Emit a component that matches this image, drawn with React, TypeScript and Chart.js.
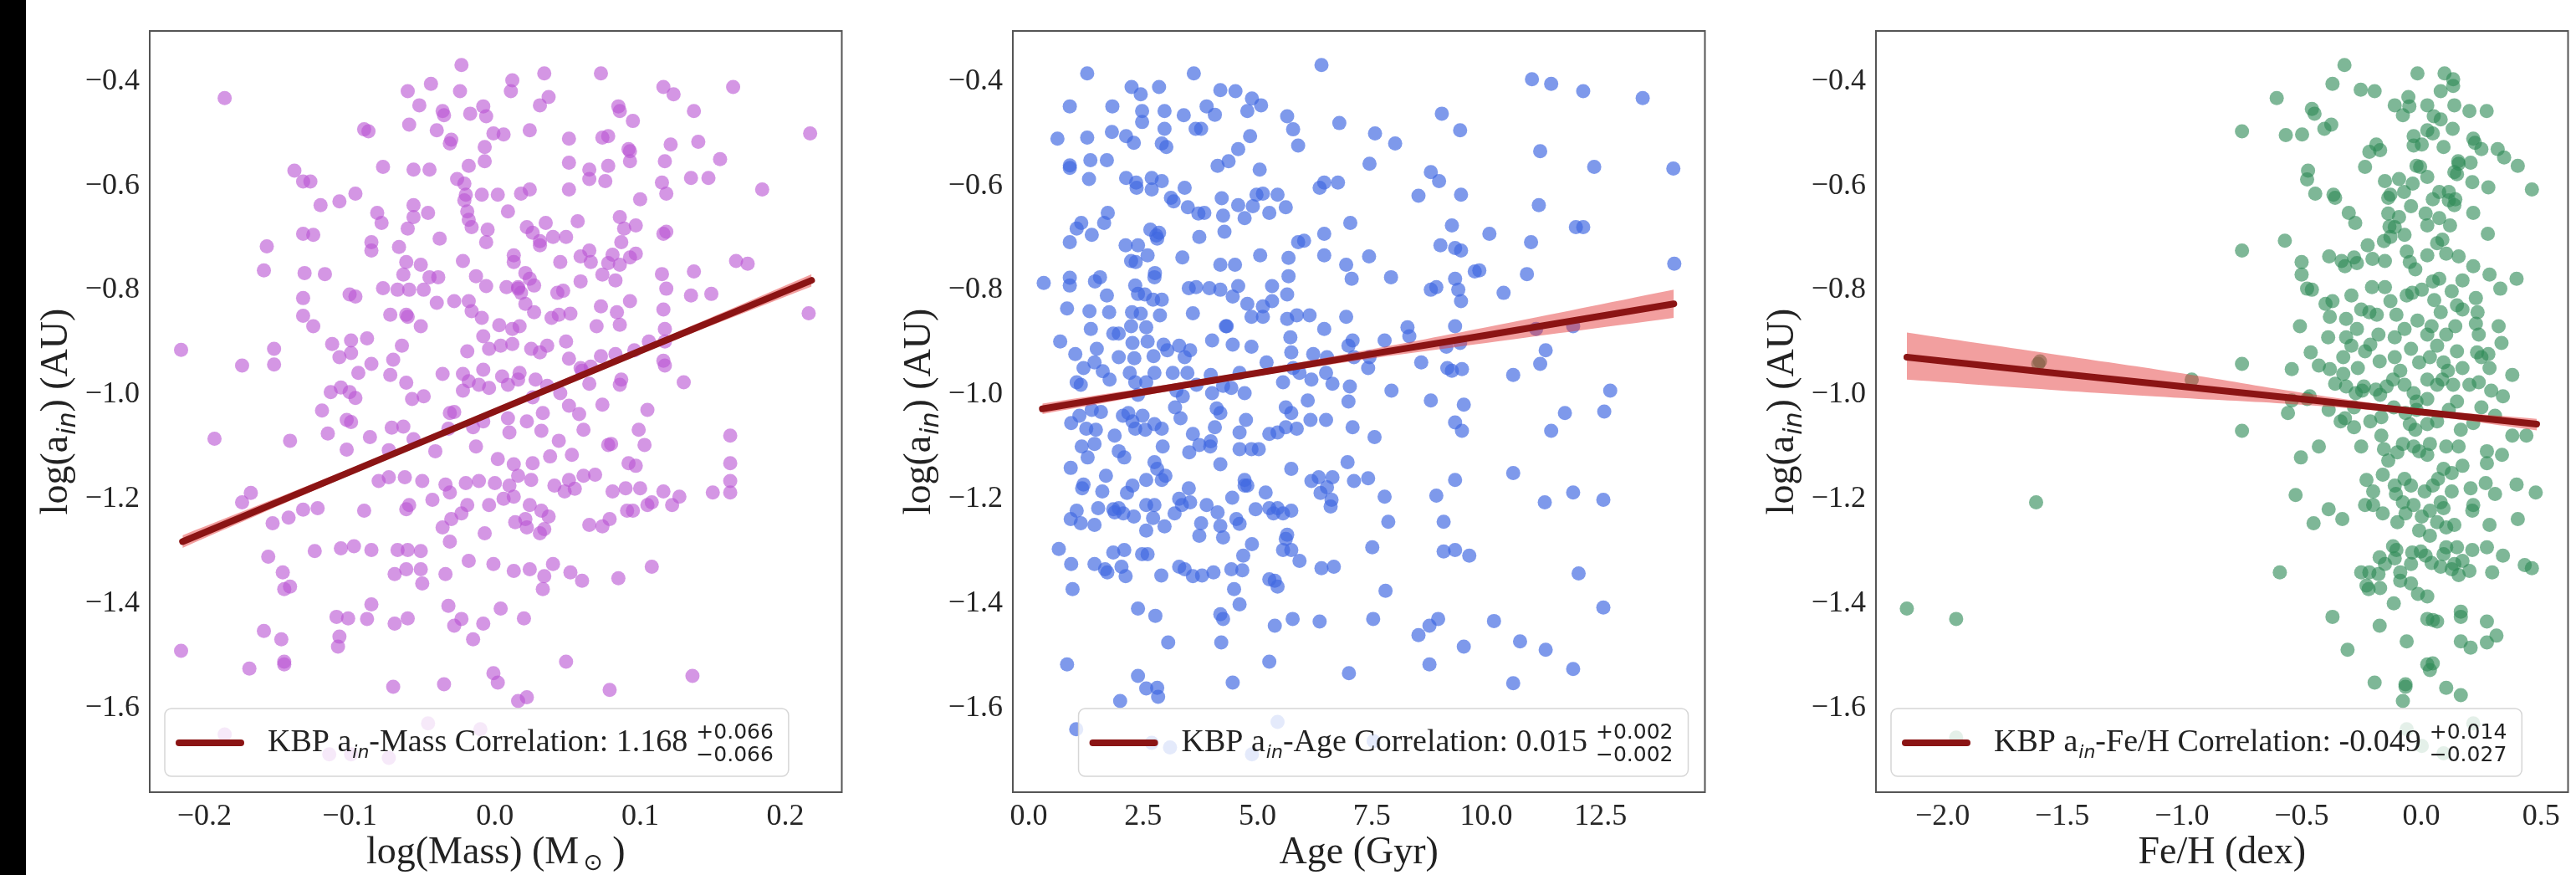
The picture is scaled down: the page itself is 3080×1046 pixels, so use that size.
import React, { useEffect, useRef } from "react";
import { Chart, registerables } from "chart.js";
Chart.register(...registerables);

// ---------------- DATA ----------------
const yTicks = [-1.6, -1.4, -1.2, -1.0, -0.8, -0.6, -0.4];
const massTicks = [-0.2, -0.1, 0.0, 0.1, 0.2];
const ageTicks = [0, 2.5, 5, 7.5, 10, 12.5];
const fehTicks = [-2.0, -1.5, -1.0, -0.5, 0.0, 0.5];

const massPoints = [
  [-0.023,-0.369],[-0.186,-0.432],[0.012,-0.398],[0.034,-0.385],[0.073,-0.385],[0.116,-0.411],[0.123,-0.425],[0.164,-0.411],
  [-0.060,-0.419],[-0.044,-0.405],[-0.024,-0.419],[0.011,-0.419],[0.037,-0.430],[-0.052,-0.446],[-0.036,-0.457],[-0.035,-0.465],
  [-0.008,-0.448],[-0.017,-0.462],[-0.006,-0.467],[0.031,-0.446],[0.137,-0.457],[0.085,-0.448],[0.086,-0.457],[0.095,-0.476],
  [-0.090,-0.492],[-0.087,-0.496],[-0.059,-0.483],[-0.040,-0.494],[-0.030,-0.512],[-0.031,-0.519],[-0.001,-0.500],[0.006,-0.502],
  [0.024,-0.494],[0.051,-0.510],[0.074,-0.508],[0.078,-0.505],[0.121,-0.521],[0.092,-0.530],[0.093,-0.534],[0.140,-0.516],
  [0.217,-0.500],[-0.007,-0.526],[-0.018,-0.562],[-0.007,-0.553],[0.051,-0.556],[0.065,-0.569],[0.078,-0.562],[0.093,-0.553],
  [0.117,-0.553],[0.155,-0.549],[0.147,-0.585],[0.135,-0.585],[-0.077,-0.564],[-0.056,-0.569],[-0.045,-0.569],[-0.138,-0.571],
  [-0.132,-0.592],[-0.127,-0.592],[-0.120,-0.637],[-0.107,-0.630],[-0.096,-0.615],[-0.026,-0.587],[-0.021,-0.596],[-0.009,-0.617],
  [0.002,-0.617],[-0.020,-0.617],[-0.021,-0.628],[0.024,-0.607],[0.018,-0.615],[0.076,-0.591],[0.065,-0.587],[0.051,-0.607],
  [0.115,-0.594],[0.118,-0.615],[0.100,-0.626],[0.184,-0.607],[-0.056,-0.637],[-0.046,-0.652],[-0.056,-0.660],[-0.081,-0.652],
  [-0.078,-0.671],[-0.060,-0.682],[-0.019,-0.649],[-0.018,-0.665],[-0.016,-0.679],[-0.005,-0.684],[-0.006,-0.708],[0.009,-0.649],
  [0.022,-0.679],[0.026,-0.690],[0.035,-0.671],[0.031,-0.706],[0.057,-0.668],[0.049,-0.698],[0.086,-0.660],[0.089,-0.682],
  [0.097,-0.676],[0.116,-0.692],[0.118,-0.688],[-0.157,-0.716],[-0.132,-0.692],[-0.125,-0.694],[-0.085,-0.708],[-0.085,-0.724],
  [-0.066,-0.717],[-0.061,-0.746],[-0.051,-0.751],[-0.038,-0.701],[-0.022,-0.744],[-0.039,-0.775],[0.013,-0.733],[0.013,-0.746],
  [0.021,-0.767],[0.016,-0.797],[0.031,-0.714],[0.040,-0.698],[0.065,-0.724],[0.066,-0.746],[0.045,-0.746],[0.059,-0.735],
  [0.087,-0.708],[0.081,-0.732],[0.097,-0.730],[0.093,-0.737],[0.086,-0.751],[0.078,-0.748],[0.166,-0.744],[0.174,-0.749],
  [-0.159,-0.762],[-0.131,-0.767],[-0.117,-0.769],[-0.100,-0.808],[-0.096,-0.812],[-0.063,-0.770],[-0.045,-0.775],[-0.077,-0.796],
  [-0.067,-0.799],[-0.059,-0.799],[-0.049,-0.799],[-0.040,-0.824],[-0.061,-0.847],[-0.051,-0.869],[-0.013,-0.773],[-0.006,-0.792],
  [0.008,-0.794],[0.016,-0.794],[0.018,-0.805],[0.021,-0.826],[0.024,-0.778],[0.027,-0.791],[0.043,-0.805],[0.047,-0.801],
  [0.059,-0.783],[0.074,-0.770],[0.083,-0.781],[0.115,-0.769],[0.118,-0.797],[0.135,-0.810],[0.149,-0.807],[0.137,-0.764],
  [0.216,-0.844],[-0.132,-0.815],[-0.132,-0.849],[-0.125,-0.869],[-0.072,-0.847],[-0.060,-0.851],[-0.028,-0.821],[-0.018,-0.821],
  [-0.016,-0.840],[-0.009,-0.853],[0.003,-0.867],[0.012,-0.874],[0.017,-0.869],[0.027,-0.842],[0.039,-0.853],[0.044,-0.847],
  [0.052,-0.845],[0.073,-0.831],[0.070,-0.869],[0.086,-0.866],[0.093,-0.821],[0.084,-0.842],[0.116,-0.837],[0.117,-0.874],
  [-0.216,-0.914],[-0.174,-0.944],[-0.152,-0.912],[-0.152,-0.942],[-0.112,-0.903],[-0.107,-0.928],[-0.099,-0.920],[-0.099,-0.896],
  [-0.088,-0.892],[-0.094,-0.958],[-0.085,-0.941],[-0.070,-0.933],[-0.064,-0.906],[-0.019,-0.917],[-0.008,-0.888],[-0.004,-0.912],
  [0.004,-0.906],[0.012,-0.903],[0.025,-0.912],[0.031,-0.919],[0.036,-0.906],[0.051,-0.931],[0.049,-0.898],[0.059,-0.949],
  [0.066,-0.946],[0.073,-0.926],[0.083,-0.922],[0.096,-0.915],[0.106,-0.898],[0.116,-0.935],[0.117,-0.944],[0.117,-0.898],
  [0.130,-0.976],[0.087,-0.971],[0.086,-0.981],[-0.193,-1.084],[-0.119,-1.030],[-0.113,-0.995],[-0.106,-0.986],[-0.100,-0.995],
  [-0.102,-1.048],[-0.096,-1.006],[-0.099,-1.052],[-0.086,-1.081],[-0.072,-0.962],[-0.061,-0.977],[-0.057,-1.008],[-0.049,-1.003],
  [-0.036,-0.960],[-0.031,-1.035],[-0.022,-0.960],[-0.022,-0.992],[-0.018,-0.974],[-0.008,-0.952],[-0.011,-0.981],[-0.004,-0.987],
  [0.005,-0.965],[0.009,-0.981],[0.017,-0.958],[0.016,-0.971],[0.028,-0.971],[0.026,-1.005],[0.036,-0.983],[0.045,-0.997],
  [0.051,-1.021],[0.058,-1.037],[0.060,-0.954],[0.065,-0.979],[0.074,-1.019],[0.105,-1.029],[0.099,-1.067],[-0.141,-1.088],
  [-0.115,-1.074],[-0.071,-1.063],[-0.063,-1.061],[-0.056,-1.085],[-0.028,-1.033],[-0.032,-1.065],[-0.015,-1.062],[-0.008,-1.051],
  [0.009,-1.045],[0.010,-1.072],[0.022,-1.051],[0.033,-1.035],[0.032,-1.069],[0.044,-1.088],[0.061,-1.067],[0.080,-1.094],
  [0.097,-1.136],[0.162,-1.078],[-0.102,-1.105],[-0.073,-1.106],[-0.041,-1.108],[-0.013,-1.099],[0.002,-1.123],[0.013,-1.133],
  [0.016,-1.155],[0.026,-1.131],[0.038,-1.118],[0.053,-1.115],[0.078,-1.096],[0.092,-1.131],[0.103,-1.096],[0.162,-1.131],
  [0.162,-1.165],[-0.174,-1.206],[-0.168,-1.188],[-0.153,-1.246],[-0.142,-1.235],[-0.132,-1.220],[-0.122,-1.217],[-0.080,-1.165],
  [-0.073,-1.158],[-0.062,-1.158],[-0.050,-1.165],[-0.034,-1.172],[-0.031,-1.187],[-0.020,-1.169],[-0.011,-1.165],[0.000,-1.169],
  [0.006,-1.199],[0.010,-1.174],[0.025,-1.163],[0.041,-1.174],[0.048,-1.185],[0.051,-1.163],[0.055,-1.180],[0.061,-1.155],
  [0.069,-1.153],[0.081,-1.185],[0.090,-1.179],[0.095,-1.222],[0.108,-1.206],[0.116,-1.185],[0.127,-1.195],[0.162,-1.187],
  [-0.156,-1.310],[-0.146,-1.340],[-0.145,-1.372],[-0.141,-1.367],[-0.124,-1.299],[-0.106,-1.294],[-0.097,-1.290],[-0.090,-1.222],
  [-0.085,-1.297],[-0.067,-1.297],[-0.059,-1.211],[-0.061,-1.219],[-0.060,-1.297],[-0.051,-1.299],[-0.043,-1.201],[-0.030,-1.238],
  [-0.036,-1.254],[-0.031,-1.281],[-0.023,-1.227],[-0.019,-1.211],[-0.007,-1.265],[-0.004,-1.211],[0.013,-1.195],[0.014,-1.244],
  [0.021,-1.238],[0.022,-1.254],[0.024,-1.211],[0.032,-1.222],[0.034,-1.257],[0.031,-1.265],[0.037,-1.233],[0.065,-1.249],
  [0.074,-1.252],[0.079,-1.238],[0.091,-1.222],[0.100,-1.179],[0.105,-1.211],[0.122,-1.211],[0.150,-1.187],[0.108,-1.329],
  [-0.069,-1.343],[-0.061,-1.334],[-0.051,-1.334],[-0.034,-1.343],[-0.018,-1.318],[-0.001,-1.324],[0.013,-1.337],[0.024,-1.334],
  [0.034,-1.347],[0.040,-1.324],[0.052,-1.340],[0.060,-1.356],[0.085,-1.351],[-0.050,-1.361],[0.033,-1.372],[-0.159,-1.452],
  [-0.147,-1.468],[-0.145,-1.511],[-0.109,-1.425],[-0.107,-1.463],[-0.108,-1.482],[-0.101,-1.428],[-0.088,-1.429],[-0.085,-1.401],
  [-0.069,-1.438],[-0.060,-1.428],[-0.032,-1.404],[-0.023,-1.429],[-0.028,-1.442],[-0.015,-1.468],[-0.008,-1.438],[0.004,-1.409],
  [0.020,-1.428],[-0.216,-1.490],[-0.169,-1.524],[-0.145,-1.516],[-0.070,-1.559],[-0.035,-1.554],[-0.001,-1.533],[0.002,-1.551],
  [0.016,-1.586],[0.022,-1.579],[0.049,-1.511],[0.079,-1.565],[0.136,-1.538],[-0.186,-1.650],[-0.114,-1.688],[-0.099,-1.688],
  [-0.073,-1.695],[-0.046,-1.629],[-0.010,-1.640],
];

const agePoints = [
  [6.40,-0.369],[1.28,-0.385],[3.61,-0.385],[11.0,-0.396],[11.42,-0.405],[12.12,-0.419],[13.42,-0.432],[2.25,-0.411],
  [2.85,-0.411],[4.19,-0.417],[4.52,-0.419],[0.90,-0.448],[1.83,-0.448],[2.45,-0.425],[2.48,-0.457],[2.97,-0.457],
  [3.39,-0.465],[3.89,-0.448],[4.07,-0.464],[4.88,-0.433],[5.08,-0.446],[4.78,-0.457],[5.65,-0.467],[6.79,-0.480],
  [9.03,-0.462],[0.63,-0.510],[1.28,-0.508],[1.82,-0.497],[2.13,-0.505],[2.30,-0.518],[2.48,-0.478],[2.91,-0.519],
  [2.97,-0.491],[3.01,-0.526],[3.65,-0.491],[3.77,-0.491],[4.84,-0.505],[5.78,-0.492],[5.89,-0.523],[7.57,-0.500],
  [8.01,-0.519],[9.43,-0.494],[11.18,-0.534],[12.36,-0.564],[14.09,-0.567],[0.90,-0.561],[0.90,-0.566],[1.35,-0.551],
  [1.71,-0.551],[1.32,-0.587],[2.13,-0.585],[2.35,-0.594],[2.36,-0.604],[2.69,-0.607],[2.91,-0.591],[3.11,-0.623],
  [3.17,-0.630],[3.41,-0.604],[2.69,-0.585],[4.13,-0.562],[4.37,-0.553],[4.58,-0.530],[5.05,-0.569],[5.12,-0.615],
  [5.44,-0.617],[5.62,-0.641],[6.02,-0.705],[6.36,-0.604],[6.46,-0.594],[6.76,-0.594],[7.45,-0.558],[8.52,-0.619],
  [8.79,-0.574],[8.97,-0.591],[9.45,-0.617],[11.15,-0.637],[12.12,-0.679],[1.73,-0.652],[1.15,-0.671],[1.05,-0.682],
  [1.38,-0.694],[0.90,-0.708],[1.65,-0.671],[2.66,-0.684],[2.85,-0.690],[2.79,-0.695],[2.81,-0.701],[2.12,-0.714],
  [2.39,-0.714],[2.24,-0.744],[2.34,-0.746],[2.60,-0.733],[3.71,-0.653],[3.73,-0.698],[3.36,-0.737],[3.48,-0.641],
  [3.84,-0.652],[4.25,-0.657],[4.28,-0.688],[4.22,-0.624],[4.58,-0.637],[4.72,-0.662],[4.90,-0.639],[4.98,-0.617],
  [5.26,-0.652],[4.19,-0.751],[4.51,-0.751],[5.06,-0.733],[5.68,-0.738],[5.89,-0.708],[6.46,-0.692],[6.46,-0.733],
  [7.03,-0.671],[6.94,-0.751],[7.06,-0.778],[7.44,-0.735],[7.92,-0.775],[9.00,-0.714],[9.32,-0.719],[9.45,-0.724],
  [9.25,-0.676],[9.75,-0.764],[9.85,-0.762],[10.07,-0.692],[10.98,-0.708],[10.89,-0.769],[11.96,-0.679],[14.11,-0.749],
  [0.33,-0.786],[0.90,-0.776],[0.90,-0.791],[0.84,-0.835],[0.69,-0.898],[1.33,-0.840],[1.45,-0.783],[1.56,-0.775],
  [1.36,-0.874],[1.71,-0.810],[1.76,-0.842],[1.85,-0.883],[1.97,-0.883],[2.33,-0.791],[2.39,-0.807],[2.54,-0.808],
  [2.76,-0.767],[2.75,-0.775],[2.72,-0.818],[2.91,-0.818],[2.26,-0.842],[2.24,-0.869],[2.45,-0.845],[2.57,-0.871],
  [2.87,-0.848],[3.50,-0.796],[3.59,-0.844],[3.66,-0.794],[3.95,-0.796],[4.19,-0.799],[4.31,-0.869],[4.46,-0.812],
  [4.58,-0.792],[4.78,-0.826],[4.87,-0.851],[5.12,-0.831],[5.12,-0.851],[5.32,-0.792],[5.32,-0.821],[5.65,-0.808],
  [5.68,-0.773],[5.65,-0.855],[5.86,-0.848],[6.14,-0.848],[6.46,-0.874],[6.94,-0.851],[8.79,-0.799],[8.91,-0.794],
  [9.32,-0.778],[9.39,-0.799],[9.45,-0.821],[10.38,-0.805],[9.32,-0.869],[8.28,-0.871],[9.43,-0.901],[9.13,-0.908],
  [8.32,-0.888],[11.09,-0.874],[11.9,-0.869],[11.18,-0.941],[11.30,-0.915],[1.02,-0.922],[1.05,-0.976],[1.14,-0.981],
  [1.20,-0.949],[1.49,-0.912],[1.44,-0.938],[1.62,-0.955],[1.77,-0.971],[1.97,-0.928],[2.27,-0.901],[2.31,-0.930],
  [2.21,-0.958],[2.33,-0.976],[2.57,-0.976],[2.60,-0.898],[2.39,-1.000],[2.73,-0.926],[2.75,-0.958],[2.95,-0.904],
  [3.03,-0.915],[3.29,-0.906],[3.53,-0.915],[3.41,-0.928],[3.15,-0.958],[3.47,-0.958],[3.23,-0.992],[3.37,-1.003],
  [3.67,-0.981],[4.01,-0.896],[3.98,-0.962],[4.33,-0.869],[4.46,-0.904],[4.61,-0.958],[4.25,-0.983],[4.01,-0.997],
  [4.43,-0.987],[4.72,-0.997],[4.87,-0.908],[5.20,-0.938],[5.56,-0.976],[5.72,-0.890],[5.74,-0.919],[5.78,-0.949],
  [5.92,-0.958],[6.22,-0.922],[6.18,-0.971],[6.52,-0.928],[6.50,-0.958],[6.64,-0.979],[6.99,-0.906],[7.11,-0.928],
  [7.08,-0.896],[7.45,-0.928],[7.42,-0.949],[7.02,-0.984],[7.93,-0.992],[7.78,-0.896],[8.58,-0.938],[9.15,-0.949],
  [9.25,-0.954],[9.47,-0.951],[9.51,-1.019],[8.79,-1.011],[10.59,-0.962],[12.71,-0.992],[12.58,-1.032],[11.72,-1.035],
  [11.42,-1.069],[9.32,-1.053],[9.47,-1.069],[10.59,-1.150],[11.28,-1.206],[11.90,-1.187],[12.56,-1.201],[12.02,-1.342],
  [12.56,-1.407],[10.17,-1.433],[10.74,-1.472],[11.30,-1.488],[11.90,-1.525],[10.59,-1.552],[9.51,-1.482],[8.95,-1.429],
  [8.76,-1.442],[8.52,-1.460],[8.76,-1.516],[7.00,-1.533],[7.80,-1.375],[7.53,-1.429],[7.51,-1.292],[7.86,-1.243],
  [7.78,-1.195],[7.42,-1.160],[7.11,-1.165],[6.97,-1.129],[7.08,-1.062],[6.99,-1.013],[7.56,-1.081],[8.91,-1.193],
  [9.07,-1.243],[9.07,-1.300],[9.32,-1.297],[9.63,-1.308],[9.32,-1.163],[6.52,-1.177],[6.62,-1.201],[6.60,-1.214],
  [6.38,-1.188],[6.18,-1.165],[6.40,-1.332],[6.67,-1.329],[6.36,-1.434],[5.77,-1.429],[5.38,-1.442],[5.26,-1.511],
  [4.46,-1.551],[4.21,-1.474],[4.25,-1.429],[4.19,-1.420],[4.61,-1.401],[4.49,-1.372],[4.43,-1.334],[4.67,-1.336],
  [4.88,-1.286],[4.69,-1.308],[5.56,-1.297],[5.74,-1.297],[5.65,-1.268],[5.62,-1.276],[5.92,-1.318],[5.38,-1.356],
  [5.44,-1.367],[5.26,-1.353],[5.44,-1.217],[5.35,-1.227],[5.26,-1.217],[5.56,-1.227],[5.74,-1.222],[5.74,-1.142],
  [5.18,-1.187],[4.96,-1.219],[4.72,-1.163],[4.72,-1.174],[4.54,-1.238],[4.61,-1.247],[4.45,-1.197],[4.13,-1.225],
  [4.19,-1.251],[3.89,-1.211],[3.77,-1.246],[3.73,-1.270],[4.25,-1.273],[4.04,-1.340],[3.79,-1.346],[3.59,-1.347],
  [3.29,-1.329],[3.41,-1.334],[3.05,-1.474],[2.77,-1.423],[2.90,-1.346],[2.39,-1.409],[2.39,-1.538],[2.57,-1.562],
  [2.81,-1.561],[2.83,-1.578],[2.00,-1.586],[1.04,-1.640],[0.84,-1.516],[0.96,-1.372],[0.66,-1.295],[0.92,-1.238],
  [1.05,-1.222],[1.14,-1.246],[1.44,-1.249],[1.17,-1.179],[1.20,-1.172],[0.93,-1.324],[1.44,-1.324],[1.67,-1.334],
  [1.85,-1.302],[2.09,-1.297],[2.03,-1.329],[2.12,-1.347],[1.72,-1.340],[1.85,-1.219],[1.97,-1.217],[1.88,-1.225],
  [2.07,-1.227],[2.30,-1.233],[2.15,-1.188],[2.57,-1.211],[2.75,-1.211],[2.72,-1.236],[2.57,-1.260],[2.60,-1.305],
  [2.48,-1.305],[2.97,-1.252],[3.19,-1.227],[3.29,-1.199],[3.50,-1.179],[3.35,-1.211],[3.53,-1.206],[2.99,-1.155],
  [2.91,-1.163],[2.57,-1.163],[2.27,-1.174],[2.09,-1.120],[1.97,-1.108],[1.69,-1.155],[1.61,-1.185],[1.52,-1.217],
  [0.92,-1.140],[1.16,-1.099],[1.29,-1.120],[1.44,-1.094],[1.47,-1.067],[1.26,-1.065],[0.93,-1.054],[1.11,-1.040],
  [1.38,-1.029],[1.58,-1.033],[1.88,-1.078],[2.06,-1.040],[2.18,-1.035],[2.27,-1.051],[2.33,-1.065],[2.49,-1.040],
  [2.55,-1.067],[2.75,-1.056],[2.91,-1.065],[2.93,-1.099],[2.75,-1.129],[2.81,-1.142],[3.20,-1.024],[3.32,-1.045],
  [3.51,-1.110],[3.59,-1.075],[3.73,-1.096],[3.97,-1.099],[4.07,-1.062],[4.19,-1.035],[4.11,-1.026],[3.98,-1.089],
  [4.19,-1.133],[4.61,-1.072],[4.61,-1.104],[4.87,-1.104],[5.03,-1.104],[4.78,-1.174],[4.75,-1.048],[5.26,-1.075],
  [5.44,-1.072],[5.62,-1.062],[5.74,-1.035],[5.62,-1.024],[5.86,-1.065],[6.10,-1.011],[6.16,-1.048],[6.50,-1.048],
  [6.64,-1.158],[6.34,-1.158],[3.09,-1.675],[5.44,-1.626],[4.88,-1.688],[2.69,-1.666],[7.54,-1.663],
];

const fehPoints = [
  [-2.149,-1.409],[-1.943,-1.429],[-1.609,-1.206],[-1.593,-0.936],[-1.600,-0.941],[-0.959,-0.971],[-0.749,-0.496],[-0.749,-0.724],
  [-0.749,-0.941],[-0.749,-1.069],[-1.943,-1.656],
  [-0.604,-0.432],[-0.321,-0.369],[-0.371,-0.405],[-0.253,-0.416],[-0.195,-0.419],[-0.016,-0.385],[-0.054,-0.430],[0.097,-0.385],
  [0.133,-0.396],[0.133,-0.409],[0.081,-0.419],[0.138,-0.446],[0.201,-0.457],[0.273,-0.457],[-0.111,-0.446],[-0.077,-0.465],
  [-0.050,-0.448],[0.025,-0.446],[0.052,-0.467],[0.048,-0.500],[0.081,-0.473],[0.025,-0.494],[-0.457,-0.453],[-0.446,-0.462],
  [-0.566,-0.503],[-0.498,-0.502],[-0.405,-0.491],[-0.376,-0.483],[-0.188,-0.521],[-0.217,-0.535],[-0.032,-0.505],[0.002,-0.521],
  [-0.032,-0.523],[0.093,-0.526],[0.131,-0.491],[0.217,-0.510],[0.224,-0.518],[0.251,-0.530],[0.319,-0.530],[0.346,-0.546],
  [0.403,-0.562],[0.462,-0.607],[0.154,-0.553],[0.156,-0.558],[0.206,-0.556],[0.138,-0.574],[0.149,-0.578],[0.213,-0.593],
  [0.280,-0.603],[-0.473,-0.571],[-0.477,-0.588],[-0.443,-0.615],[-0.360,-0.623],[-0.367,-0.617],[-0.235,-0.564],[-0.172,-0.532],
  [-0.152,-0.591],[-0.129,-0.617],[-0.138,-0.623],[-0.072,-0.612],[-0.093,-0.587],[-0.036,-0.596],[-0.020,-0.562],[-0.005,-0.564],
  [0.025,-0.583],[0.048,-0.626],[0.075,-0.612],[0.115,-0.612],[0.115,-0.628],[0.138,-0.637],[0.142,-0.626],[-0.303,-0.652],
  [-0.276,-0.671],[-0.138,-0.653],[-0.133,-0.678],[-0.093,-0.660],[-0.070,-0.694],[-0.043,-0.639],[0.018,-0.653],[0.025,-0.676],
  [0.075,-0.662],[0.088,-0.703],[0.120,-0.676],[0.217,-0.652],[0.278,-0.692],[-0.111,-0.679],[-0.156,-0.706],[-0.129,-0.698],
  [-0.224,-0.714],[-0.570,-0.705],[-0.385,-0.735],[-0.281,-0.737],[-0.269,-0.748],[-0.204,-0.740],[-0.152,-0.744],[-0.061,-0.726],
  [-0.048,-0.746],[-0.025,-0.760],[0.025,-0.733],[0.066,-0.710],[0.104,-0.730],[0.156,-0.735],[0.217,-0.754],[0.172,-0.781],
  [0.285,-0.770],[0.398,-0.778],[-0.500,-0.746],[-0.500,-0.770],[-0.477,-0.797],[-0.457,-0.799],[-0.319,-0.754],[-0.333,-0.744],
  [-0.371,-0.821],[-0.400,-0.826],[-0.382,-0.851],[-0.314,-0.855],[-0.292,-0.810],[-0.206,-0.794],[-0.152,-0.794],[-0.251,-0.837],
  [-0.217,-0.842],[-0.186,-0.847],[-0.129,-0.821],[-0.104,-0.847],[-0.061,-0.810],[-0.038,-0.805],[0.002,-0.799],[0.048,-0.783],
  [0.075,-0.778],[0.127,-0.802],[0.054,-0.819],[0.081,-0.842],[0.149,-0.829],[0.172,-0.837],[0.228,-0.815],[0.330,-0.797],
  [0.235,-0.842],[0.323,-0.869],[0.335,-0.901],[0.240,-0.885],[0.233,-0.919],[0.280,-0.922],[0.285,-0.949],[0.240,-0.976],
  [0.292,-0.992],[0.341,-1.003],[0.380,-0.962],[0.439,-1.078],[0.398,-1.172],[0.478,-1.187],[0.403,-1.238],[0.341,-1.308],
  [0.432,-1.326],[0.462,-1.332],[0.337,-1.115],[0.274,-1.108],[0.274,-1.131],[0.269,-1.169],[0.308,-1.190],[0.206,-1.179],
  [0.217,-1.211],[0.213,-1.222],[0.285,-1.249],[0.274,-1.292],[0.213,-1.297],[0.296,-1.340],[0.274,-1.434],[0.314,-1.461],
  [0.274,-1.474],[0.206,-1.484],[0.165,-1.472],[0.165,-1.415],[0.165,-1.425],[0.165,-1.575],[0.104,-1.561],[0.048,-1.514],
  [0.036,-1.527],[0.025,-1.516],[0.048,-1.431],[0.066,-1.434],[0.025,-1.429],[-0.061,-1.472],[-0.066,-1.554],[-0.066,-1.559],
  [-0.077,-1.586],[-0.195,-1.551],[-0.308,-1.488],[-0.371,-1.425],[-0.115,-1.399],[-0.174,-1.442],[-0.014,-1.381],[0.025,-1.386],
  [-0.088,-1.356],[-0.088,-1.340],[-0.043,-1.324],[-0.043,-1.361],[-0.111,-1.313],[-0.152,-1.324],[-0.179,-1.343],[-0.217,-1.340],
  [-0.251,-1.340],[-0.220,-1.372],[-0.229,-1.365],[-0.172,-1.370],[-0.174,-1.311],[-0.118,-1.290],[-0.104,-1.297],[-0.038,-1.302],
  [-0.002,-1.300],[0.018,-1.308],[0.043,-1.322],[0.081,-1.329],[0.093,-1.305],[0.138,-1.324],[0.156,-1.345],[0.172,-1.318],
  [0.201,-1.337],[0.127,-1.334],[0.104,-1.292],[0.149,-1.292],[-0.591,-1.340],[-0.330,-1.238],[-0.387,-1.219],[-0.525,-1.192],
  [-0.450,-1.246],[-0.428,-1.099],[-0.503,-1.120],[-0.557,-1.035],[-0.541,-1.011],[-0.477,-1.008],[-0.466,-1.003],[-0.541,-0.951],
  [-0.507,-0.869],[-0.387,-1.029],[-0.337,-1.051],[-0.319,-1.045],[-0.314,-0.984],[-0.360,-0.979],[-0.326,-0.960],[-0.265,-0.949],
  [-0.274,-0.997],[-0.240,-0.984],[-0.190,-0.990],[-0.172,-1.000],[-0.145,-0.984],[-0.118,-0.971],[-0.088,-0.954],[-0.070,-0.981],
  [-0.032,-0.997],[-0.020,-1.013],[-0.020,-1.029],[0.025,-0.971],[0.066,-0.981],[0.088,-0.971],[0.111,-0.954],[0.133,-0.981],
  [0.149,-1.013],[0.025,-1.008],[-0.048,-1.056],[-0.025,-1.067],[0.025,-1.056],[0.066,-1.051],[-0.066,-1.035],[-0.115,-1.024],
  [-0.167,-1.043],[-0.213,-1.051],[-0.247,-0.992],[-0.281,-1.024],[-0.281,-1.062],[-0.251,-1.099],[-0.167,-1.078],[-0.156,-1.104],
  [-0.138,-1.126],[-0.100,-1.110],[-0.077,-1.094],[-0.032,-1.099],[-0.009,-1.108],[0.025,-1.115],[0.036,-1.094],[0.104,-1.099],
  [0.165,-1.067],[0.156,-1.099],[0.172,-1.136],[0.127,-1.150],[0.093,-1.142],[0.070,-1.161],[0.048,-1.174],[0.014,-1.185],
  [-0.043,-1.174],[-0.070,-1.161],[-0.111,-1.174],[-0.161,-1.153],[-0.201,-1.185],[-0.229,-1.163],[-0.235,-1.211],[-0.201,-1.211],
  [-0.161,-1.227],[-0.100,-1.244],[-0.066,-1.227],[-0.032,-1.211],[0.002,-1.233],[0.036,-1.222],[0.066,-1.244],[0.093,-1.217],
  [0.104,-1.254],[0.138,-1.249],[-0.009,-1.260],[0.036,-1.270],[0.081,-1.206],[0.127,-1.185],[-0.106,-1.190],[-0.077,-1.206],
  [0.251,-0.928],[0.228,-0.864],[0.142,-0.869],[0.104,-0.885],[0.066,-0.906],[0.025,-0.885],[0.043,-0.869],[-0.016,-0.858],
  [-0.070,-0.874],[-0.111,-0.890],[-0.179,-0.885],[-0.213,-0.904],[-0.235,-0.917],[-0.174,-0.936],[-0.111,-0.928],[-0.043,-0.912],
  [-0.009,-0.938],[0.036,-0.928],[0.093,-0.938],[0.149,-0.917],[0.172,-0.949],[0.201,-0.981],[-0.292,-0.906],[-0.326,-0.928],
  [-0.382,-0.951],[-0.428,-0.944],[-0.462,-0.919],[-0.389,-0.890],[-0.314,-0.890],[-0.269,-0.874],[0.251,-1.024],[0.308,-1.040],
  [0.380,-1.078],[0.217,-1.054],[0.115,-1.029],[-0.061,-1.640],[0.002,-1.672],[0.093,-1.686],[0.217,-1.629],
];

// regression lines with confidence band (read at a few x positions)
const massFitX = [-0.215, -0.1, 0.0, 0.1, 0.218];
const massFitY = [-1.281, -1.148, -1.032, -0.916, -0.781];
const massFitHi = [-1.269, -1.142, -1.027, -0.910, -0.769];
const massFitLo = [-1.293, -1.154, -1.037, -0.922, -0.793];

const ageFitX = [0.3, 4, 7, 10, 14.1];
const ageFitY = [-1.027, -0.973, -0.929, -0.886, -0.826];
const ageFitHi = [-1.017, -0.967, -0.921, -0.871, -0.799];
const ageFitLo = [-1.037, -0.979, -0.937, -0.901, -0.853];

const fehFitX = [-2.149, -1.5, -1.0, -0.5, 0.0, 0.482];
const fehFitY = [-0.928, -0.960, -0.984, -1.008, -1.033, -1.056];
const fehFitHi = [-0.881, -0.925, -0.959, -0.996, -1.027, -1.046];
const fehFitLo = [-0.971, -0.992, -1.006, -1.019, -1.039, -1.068];

const legendMass = ["-Mass Correlation: 1.168", "+0.066", "\u22120.066"];
const legendAge = ["-Age Correlation: 0.015", "+0.002", "\u22120.002"];
const legendFeh = ["-Fe/H Correlation: -0.049", "+0.014", "\u22120.027"];

// ---------------- STYLE ----------------
const SERIF = '"Liberation Serif", "Times New Roman", serif';
const SANS = '"DejaVu Sans", sans-serif';
const LINE_COLOR = "#8b1414";
const BAND_COLOR = "rgba(228,55,55,0.48)";
const CANVAS_W = 996;
const CANVAS_H = 1046;

const fmt = (v: number) => {
  const s = Math.abs(v) < 1e-9 ? "0.0" : v.toFixed(1);
  return s.replace("-", "\u2212");
};

type Piece = { t: string; font: string; dy: number; dx?: number };

function drawPieces(ctx: CanvasRenderingContext2D, pieces: Piece[], x: number, y: number, align: "left" | "center") {
  let total = 0;
  const widths = pieces.map((p) => {
    ctx.font = p.font;
    const w = ctx.measureText(p.t).width + (p.dx || 0);
    total += w;
    return w;
  });
  let cx = align === "center" ? x - total / 2 : x;
  ctx.textAlign = "left";
  ctx.textBaseline = "alphabetic";
  pieces.forEach((p, i) => {
    ctx.font = p.font;
    ctx.fillText(p.t, cx + (p.dx || 0), y + p.dy);
    cx += widths[i];
  });
  return total;
}

function makeDecor(cfg: any) {
  return {
    id: "decor",
    afterDraw(chart: any) {
      const ctx: CanvasRenderingContext2D = chart.ctx;
      const ca = chart.chartArea;
      ctx.save();
      // frame
      ctx.strokeStyle = "#555555";
      ctx.lineWidth = 2;
      ctx.strokeRect(ca.left, ca.top, ca.right - ca.left, ca.bottom - ca.top);

      // legend
      const mainFont = `38px ${SERIF}`;
      const subFont = `italic 22px ${SANS}`;
      const numFont = `25px ${SANS}`;
      const [rest, plus, minus] = cfg.legend;
      const textPieces: Piece[] = [
        { t: "KBP a", font: mainFont, dy: 0 },
        { t: "in", font: subFont, dy: 8, dx: 1 },
        { t: rest, font: mainFont, dy: 0 },
      ];
      let textW = 0;
      textPieces.forEach((p) => {
        ctx.font = p.font;
        textW += ctx.measureText(p.t).width + (p.dx || 0);
      });
      ctx.font = numFont;
      const numW = Math.max(ctx.measureText(plus).width, ctx.measureText(minus).width);
      const padL = 13, swW = 82, gap = 28, gap2 = 10, padR = 18;
      const boxW = padL + swW + gap + textW + gap2 + numW + padR;
      const boxH = 81;
      const boxX = cfg.legendAnchor === "left" ? ca.left + 18 : ca.right - 20 - boxW;
      const boxY = ca.bottom - 19 - boxH;
      ctx.beginPath();
      (ctx as any).roundRect(boxX, boxY, boxW, boxH, 8);
      ctx.fillStyle = "rgba(255,255,255,0.8)";
      ctx.fill();
      ctx.strokeStyle = "rgba(210,210,210,0.9)";
      ctx.lineWidth = 1.5;
      ctx.stroke();
      // swatch
      ctx.beginPath();
      ctx.lineCap = "round";
      ctx.strokeStyle = LINE_COLOR;
      ctx.lineWidth = 8;
      ctx.moveTo(boxX + padL + 4, boxY + 41);
      ctx.lineTo(boxX + padL + swW - 4, boxY + 41);
      ctx.stroke();
      ctx.fillStyle = "#222222";
      const tx = boxX + padL + swW + gap;
      drawPieces(ctx, textPieces, tx, boxY + 51, "left");
      ctx.font = numFont;
      ctx.textAlign = "left";
      ctx.fillText(plus, tx + textW + gap2, boxY + 36);
      ctx.fillText(minus, tx + textW + gap2, boxY + 63);

      // x title
      ctx.fillStyle = "#222222";
      const tFont = `46px ${SERIF}`;
      drawPieces(ctx, cfg.xTitle(tFont), (ca.left + ca.right) / 2, 1032, "center");

      // y title
      ctx.save();
      ctx.translate(ca.left - 99, (ca.top + ca.bottom) / 2);
      ctx.rotate(-Math.PI / 2);
      drawPieces(
        ctx,
        [
          { t: "log(a", font: tFont, dy: 0 },
          { t: "in", font: `italic 30px ${SANS}`, dy: 10, dx: 1 },
          { t: ") (AU)", font: tFont, dy: 0 },
        ],
        0,
        0,
        "center"
      );
      ctx.restore();
      ctx.restore();
    },
  };
}

const panels = [
  {
    left: 179 - 160,
    points: massPoints,
    color: "rgba(186,85,211,0.62)",
    fit: [massFitX, massFitY, massFitHi, massFitLo],
    xMin: -0.2376,
    xMax: 0.2388,
    xTicks: massTicks,
    legend: legendMass,
    legendAnchor: "left",
    xTitle: (f: string): Piece[] => [
      { t: "log(Mass) (M", font: f, dy: 0 },
      { t: "\u2299", font: `28px ${SANS}`, dy: 8, dx: 5 },
      { t: " )", font: f, dy: 0 },
    ],
  },
  {
    left: 1211 - 160,
    points: agePoints,
    color: "rgba(65,105,225,0.68)",
    fit: [ageFitX, ageFitY, ageFitHi, ageFitLo],
    xMin: -0.345,
    xMax: 14.78,
    xTicks: ageTicks,
    legend: legendAge,
    legendAnchor: "right",
    xTitle: (f: string): Piece[] => [{ t: "Age (Gyr)", font: f, dy: 0 }],
  },
  {
    left: 2243 - 160,
    points: fehPoints,
    color: "rgba(46,139,87,0.62)",
    fit: [fehFitX, fehFitY, fehFitHi, fehFitLo],
    xMin: -2.278,
    xMax: 0.613,
    xTicks: fehTicks,
    legend: legendFeh,
    legendAnchor: "left",
    xTitle: (f: string): Piece[] => [{ t: "Fe/H (dex)", font: f, dy: 0 }],
  },
];

function Panel({ cfg }: { cfg: any }) {
  const ref = useRef<HTMLCanvasElement>(null);
  useEffect(() => {
    if (!ref.current) return;
    const [fx, fy, fhi, flo] = cfg.fit;
    const chart = new Chart(ref.current, {
      type: "scatter",
      data: {
        datasets: [
          {
            type: "line",
            data: fx.map((x: number, i: number) => ({ x, y: fhi[i] })),
            fill: "+1",
            backgroundColor: BAND_COLOR,
            borderWidth: 0,
            pointRadius: 0,
            tension: 0.4,
            order: 1,
          } as any,
          {
            type: "line",
            data: fx.map((x: number, i: number) => ({ x, y: flo[i] })),
            fill: false,
            borderWidth: 0,
            pointRadius: 0,
            tension: 0.4,
            order: 1,
          } as any,
          {
            type: "line",
            data: fx.map((x: number, i: number) => ({ x, y: fy[i] })),
            borderColor: LINE_COLOR,
            borderWidth: 8,
            borderCapStyle: "round",
            pointRadius: 0,
            fill: false,
            order: 0,
          } as any,
          {
            type: "scatter",
            data: cfg.points.map((p: number[]) => ({ x: p[0], y: p[1] })),
            backgroundColor: cfg.color,
            borderWidth: 0,
            pointRadius: 8.5,
            pointHoverRadius: 8.5,
            order: 2,
          } as any,
        ],
      },
      options: {
        animation: false,
        responsive: false,
        devicePixelRatio: 1,
        events: [],
        layout: { padding: { left: 0, top: 37, right: 4, bottom: 0 } },
        plugins: { legend: { display: false }, tooltip: { enabled: false } },
        scales: {
          x: {
            type: "linear",
            min: cfg.xMin,
            max: cfg.xMax,
            grid: { display: false, drawTicks: false },
            border: { display: false },
            afterBuildTicks: (axis: any) => {
              axis.ticks = cfg.xTicks.map((v: number) => ({ value: v }));
            },
            afterFit: (axis: any) => {
              axis.height = 99;
            },
            ticks: {
              autoSkip: false,
              maxRotation: 0,
              padding: 8,
              color: "#262626",
              font: { family: SERIF, size: 36 },
              callback: (v: any) => fmt(Number(v)),
            },
          },
          y: {
            type: "linear",
            min: -1.7606,
            max: -0.3037,
            grid: { display: false, drawTicks: false },
            border: { display: false },
            afterBuildTicks: (axis: any) => {
              axis.ticks = yTicks.map((v: number) => ({ value: v }));
            },
            afterFit: (axis: any) => {
              axis.width = 160;
            },
            ticks: {
              autoSkip: false,
              padding: 12,
              color: "#262626",
              font: { family: SERIF, size: 36 },
              callback: (v: any) => fmt(Number(v)),
            },
          },
        },
      } as any,
      plugins: [makeDecor(cfg)],
    });
    return () => chart.destroy();
  }, []);
  return (
    <canvas
      ref={ref}
      width={CANVAS_W}
      height={CANVAS_H}
      style={{ position: "absolute", left: cfg.left, top: 0, width: CANVAS_W, height: CANVAS_H }}
    />
  );
}

export default function App() {
  return (
    <div
      style={{
        position: "fixed",
        left: 0,
        top: 0,
        width: 3080,
        height: 1046,
        background: "#ffffff",
        overflow: "hidden",
      }}
    >
      {panels.map((p, i) => (
        <Panel key={i} cfg={p} />
      ))}
      <div style={{ position: "absolute", left: 0, top: 0, width: 31, height: 1046, background: "#000000" }} />
    </div>
  );
}
